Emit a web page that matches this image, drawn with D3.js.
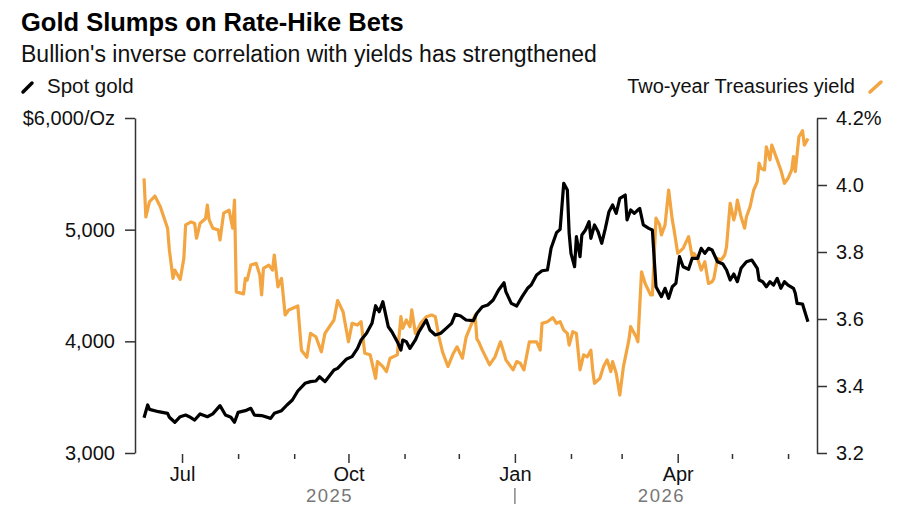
<!DOCTYPE html>
<html>
<head>
<meta charset="utf-8">
<script src="https://cdn.jsdelivr.net/npm/d3@7"></script>
<style>
  body { margin: 0; background: #fff; font-family: "Liberation Sans", Arial, sans-serif; }
  .axis text { fill: #111; font-size: 20px; font-family: "Liberation Sans", Arial, sans-serif; }
  .axis line, .axis path { stroke: #333; stroke-width: 1.5; }
</style>
</head>
<body>
<div id="chart"></div>
<script>
// Chart size
const width = 900,
    height = 510;

// Spot gold, $/oz
const goldDates = [
    "2025-06-10","2025-06-12","2025-06-13","2025-06-18","2025-06-23","2025-06-24","2025-06-27","2025-06-30",
    "2025-07-03","2025-07-05","2025-07-08","2025-07-11","2025-07-15","2025-07-18","2025-07-22","2025-07-25","2025-07-28","2025-07-30",
    "2025-08-01","2025-08-05","2025-08-08","2025-08-10","2025-08-14","2025-08-19","2025-08-21","2025-08-25","2025-08-28","2025-08-31",
    "2025-09-03","2025-09-07","2025-09-10","2025-09-13","2025-09-15","2025-09-18","2025-09-23","2025-09-25","2025-09-30",
    "2025-10-03","2025-10-06","2025-10-08","2025-10-11","2025-10-14","2025-10-16","2025-10-18","2025-10-20","2025-10-23","2025-10-25","2025-10-28","2025-10-30","2025-10-31",
    "2025-11-02","2025-11-04","2025-11-07","2025-11-09","2025-11-13","2025-11-15","2025-11-18","2025-11-21","2025-11-24","2025-11-27","2025-11-29",
    "2025-12-02","2025-12-05","2025-12-09","2025-12-11","2025-12-14","2025-12-17","2025-12-20","2025-12-23","2025-12-26","2025-12-27","2025-12-30",
    "2026-01-02","2026-01-05","2026-01-08","2026-01-10","2026-01-13","2026-01-16","2026-01-19","2026-01-21","2026-01-24","2026-01-26","2026-01-28","2026-01-30","2026-01-31",
    "2026-02-01","2026-02-03","2026-02-04","2026-02-06","2026-02-07","2026-02-09","2026-02-11","2026-02-12","2026-02-14","2026-02-16","2026-02-18","2026-02-20","2026-02-22","2026-02-24","2026-02-26","2026-02-28",
    "2026-03-03","2026-03-04","2026-03-06","2026-03-08","2026-03-10","2026-03-11","2026-03-13","2026-03-16","2026-03-18","2026-03-20","2026-03-23","2026-03-25","2026-03-27","2026-03-29","2026-03-31",
    "2026-04-02","2026-04-04","2026-04-07","2026-04-09","2026-04-12","2026-04-14","2026-04-16","2026-04-18","2026-04-20","2026-04-23","2026-04-26","2026-04-28","2026-04-30",
    "2026-05-02","2026-05-04","2026-05-06","2026-05-09","2026-05-12","2026-05-15","2026-05-16","2026-05-18","2026-05-20","2026-05-22","2026-05-24","2026-05-26","2026-05-28","2026-05-30",
    "2026-06-01","2026-06-04","2026-06-05","2026-06-06","2026-06-09","2026-06-10","2026-06-12"
];
const goldValues = [
    3316,3430,3391,3370,3355,3320,3275,3325,
    3340,3325,3295,3350,3325,3350,3424,3340,3320,3275,
    3364,3379,3400,3340,3335,3310,3355,3379,3430,3475,
    3555,3624,3639,3645,3683,3639,3743,3758,3842,
    3863,3937,4012,4072,4161,4319,4265,4355,4131,4086,3997,3922,4012,
    3997,3937,4012,4086,4191,4101,4057,4072,4116,4161,4242,
    4227,4191,4185,4251,4310,4325,4370,4460,4525,4445,4340,
    4316,4400,4475,4504,4594,4632,4639,4833,4973,5003,5415,5355,4967,
    4788,4668,4937,4758,4952,4997,5071,4922,5042,4982,4878,5012,5161,5221,5146,5281,
    5310,5087,5176,5146,5176,5191,5042,5012,4997,4489,4400,4475,4385,4489,4519,
    4758,4668,4645,4743,4743,4833,4788,4833,4818,4713,4692,4639,4549,
    4603,4534,4654,4713,4728,4654,4549,4534,4489,4534,4504,4564,4475,4534,
    4504,4475,4430,4340,4334,4281,4176
];

// Two-year Treasuries yield, %
const yieldDates = [
    "2025-06-10","2025-06-11","2025-06-13","2025-06-16","2025-06-19","2025-06-23","2025-06-24","2025-06-26","2025-06-27","2025-06-30",
    "2025-07-02","2025-07-03","2025-07-06","2025-07-08","2025-07-09","2025-07-11","2025-07-14","2025-07-15","2025-07-16","2025-07-18","2025-07-21","2025-07-22","2025-07-24","2025-07-27","2025-07-29","2025-07-30","2025-07-31",
    "2025-08-04","2025-08-05","2025-08-06","2025-08-08","2025-08-11","2025-08-13","2025-08-14","2025-08-15","2025-08-18","2025-08-20","2025-08-21","2025-08-23","2025-08-25","2025-08-27","2025-08-29",
    "2025-09-03","2025-09-05","2025-09-08","2025-09-10","2025-09-13","2025-09-16","2025-09-18","2025-09-23","2025-09-25","2025-09-28",
    "2025-10-01","2025-10-03","2025-10-06","2025-10-08","2025-10-10","2025-10-13","2025-10-16","2025-10-17","2025-10-20","2025-10-22","2025-10-24","2025-10-28","2025-10-30","2025-10-31",
    "2025-11-02","2025-11-04","2025-11-05","2025-11-07","2025-11-10","2025-11-13","2025-11-16","2025-11-18","2025-11-20","2025-11-22","2025-11-25","2025-11-28","2025-11-30",
    "2025-12-03","2025-12-05","2025-12-08","2025-12-10","2025-12-11","2025-12-12","2025-12-14","2025-12-18","2025-12-21","2025-12-24","2025-12-26","2025-12-27","2025-12-31",
    "2026-01-02","2026-01-04","2026-01-06","2026-01-09","2026-01-13","2026-01-15","2026-01-16","2026-01-19","2026-01-22","2026-01-24","2026-01-26","2026-01-28","2026-01-30","2026-01-31",
    "2026-02-02","2026-02-04","2026-02-06","2026-02-08","2026-02-10","2026-02-12","2026-02-13","2026-02-14","2026-02-17","2026-02-19","2026-02-21","2026-02-23","2026-02-24","2026-02-26","2026-02-28",
    "2026-03-02","2026-03-05","2026-03-06","2026-03-09","2026-03-10","2026-03-12","2026-03-14","2026-03-17","2026-03-18","2026-03-20","2026-03-22","2026-03-23","2026-03-25","2026-03-27","2026-03-29","2026-03-30",
    "2026-04-01","2026-04-04","2026-04-07","2026-04-09","2026-04-10","2026-04-12","2026-04-14","2026-04-16","2026-04-18","2026-04-20","2026-04-21","2026-04-23","2026-04-25","2026-04-27","2026-04-28","2026-04-30",
    "2026-05-02","2026-05-03","2026-05-04","2026-05-06","2026-05-08","2026-05-09","2026-05-11","2026-05-13","2026-05-15","2026-05-16","2026-05-17","2026-05-19","2026-05-20","2026-05-22","2026-05-23","2026-05-26","2026-05-28","2026-05-30",
    "2026-06-01","2026-06-03","2026-06-04","2026-06-05","2026-06-07","2026-06-09","2026-06-10","2026-06-12"
];
const yieldValues = [
    4.02,3.905,3.95,3.967,3.935,3.871,3.806,3.721,3.746,3.718,
    3.781,3.881,3.89,3.885,3.841,3.886,3.9,3.94,3.896,3.871,3.866,3.836,3.916,3.925,3.871,3.955,3.681,
    3.675,3.721,3.716,3.761,3.766,3.731,3.672,3.751,3.761,3.746,3.791,3.696,3.721,3.612,3.627,
    3.639,3.507,3.486,3.557,3.547,3.502,3.557,3.597,3.655,3.622,
    3.532,3.587,3.582,3.592,3.498,3.493,3.423,3.473,3.458,3.443,3.483,3.493,3.607,3.572,
    3.597,3.577,3.627,3.557,3.587,3.607,3.612,3.607,3.547,3.502,3.458,3.498,3.517,
    3.483,3.545,3.585,3.612,3.54,3.532,3.507,3.463,3.487,3.532,3.498,3.478,3.448,
    3.473,3.468,3.448,3.532,3.532,3.507,3.587,3.592,3.604,3.587,3.592,3.567,3.557,3.522,
    3.562,3.557,3.448,3.493,3.487,3.507,3.448,3.408,3.423,3.458,3.478,3.443,3.473,3.438,3.373,
    3.458,3.537,3.577,3.547,3.532,3.741,3.706,3.672,3.672,3.901,3.881,3.851,3.881,3.985,3.896,3.866,
    3.796,3.811,3.846,3.786,3.796,3.781,3.746,3.771,3.706,3.711,3.721,3.781,3.776,3.791,3.816,3.945,
    3.896,3.916,3.955,3.905,3.871,3.905,3.935,3.985,4.01,4.065,4.05,4.045,4.114,4.075,4.119,4.075,4.045,4.005,
    4.02,4.045,4.085,4.04,4.144,4.162,4.119,4.139
];

// Axis ticks
const goldTicks = [3000, 4000, 5000, 6000];
const yieldTicks = [3.2, 3.4, 3.6, 3.8, 4.0, 4.2];
const yearLabels = ["2025", "2026"];

const parseDate = d3.timeParse("%Y-%m-%d");
const gold = goldDates.map((d, i) => ({ date: parseDate(d), value: goldValues[i] }));
const yields = yieldDates.map((d, i) => ({ date: parseDate(d), value: yieldValues[i] }));

// Scales
const x = d3.scaleTime()
    .domain([new Date(2025, 5, 5), new Date(2026, 5, 17)])
    .range([135, 817]);

const yGold = d3.scaleLinear().domain([3000, 6000]).range([453, 118]);
const yYield = d3.scaleLinear().domain([3.2, 4.2]).range([453, 118]);

const svg = d3.select("#chart")
    .append("svg")
    .attr("width", width)
    .attr("height", height);

svg.append("rect").attr("width", width).attr("height", height).attr("fill", "#fff");

// Title and subtitle
svg.append("text")
    .attr("x", 21).attr("y", 31)
    .attr("font-size", 25.5).attr("font-weight", "bold").attr("fill", "#000")
    .text("Gold Slumps on Rate-Hike Bets");

svg.append("text")
    .attr("x", 21).attr("y", 62)
    .attr("font-size", 23).attr("fill", "#111")
    .text("Bullion's inverse correlation with yields has strengthened");

// Legend
svg.append("line")
    .attr("x1", 23).attr("y1", 92).attr("x2", 32).attr("y2", 83)
    .attr("stroke", "#000").attr("stroke-width", 3.5).attr("stroke-linecap", "round");
svg.append("text")
    .attr("x", 47).attr("y", 93)
    .attr("font-size", 20.5).attr("fill", "#111")
    .text("Spot gold");

svg.append("line")
    .attr("x1", 870).attr("y1", 92).attr("x2", 881).attr("y2", 82)
    .attr("stroke", "#f2a541").attr("stroke-width", 3.5).attr("stroke-linecap", "round");
svg.append("text")
    .attr("x", 855).attr("y", 93)
    .attr("text-anchor", "end")
    .attr("font-size", 20).attr("fill", "#111")
    .text("Two-year Treasuries yield");

// Left axis
svg.append("g")
    .attr("class", "axis")
    .attr("transform", "translate(135,0)")
    .call(d3.axisLeft(yGold)
        .tickValues(goldTicks)
        .tickSize(10)
        .tickSizeOuter(0)
        .tickPadding(10)
        .tickFormat(d => d === 6000 ? "$6,000/Oz" : d3.format(",")(d)));

// Right axis
svg.append("g")
    .attr("class", "axis")
    .attr("transform", "translate(817,0)")
    .call(d3.axisRight(yYield)
        .tickValues(yieldTicks)
        .tickSize(10)
        .tickSizeOuter(0)
        .tickPadding(9)
        .tickFormat(d => d === 4.2 ? "4.2%" : d.toFixed(1)));

// Bottom axis: quarter months labelled, other months short ticks
const months = d3.timeMonth.range(new Date(2025, 6, 1), new Date(2026, 5, 2));
const majorMonths = months.filter(d => d.getMonth() % 3 === 0);
const minorMonths = months.filter(d => d.getMonth() % 3 !== 0);

const xMajor = svg.append("g")
    .attr("class", "axis")
    .attr("transform", "translate(0,454)")
    .call(d3.axisBottom(x)
        .tickValues(majorMonths)
        .tickSize(9)
        .tickPadding(4)
        .tickFormat(d3.timeFormat("%b")));
xMajor.select(".domain").remove();

const xMinor = svg.append("g")
    .attr("class", "axis")
    .attr("transform", "translate(0,454)")
    .call(d3.axisBottom(x)
        .tickValues(minorMonths)
        .tickSize(5)
        .tickFormat(""));
xMinor.select(".domain").remove();

// Year labels and divider
const firstDate = gold[0].date, lastDate = gold[gold.length - 1].date;
const newYear = new Date(2026, 0, 1);
const yearCenters = [
    (x(firstDate) + x(newYear)) / 2,
    (x(newYear) + x(lastDate)) / 2
];
svg.selectAll(".year")
    .data(yearLabels)
    .enter().append("text")
    .attr("class", "year")
    .attr("x", (d, i) => yearCenters[i])
    .attr("y", 502)
    .attr("text-anchor", "middle")
    .attr("font-size", 18.5)
    .attr("letter-spacing", 1.5)
    .attr("fill", "#777")
    .text(d => d);

svg.append("line")
    .attr("x1", x(newYear)).attr("x2", x(newYear))
    .attr("y1", 488).attr("y2", 504)
    .attr("stroke", "#888").attr("stroke-width", 1.5);

// Lines
const yieldLine = d3.line()
    .x(d => x(d.date))
    .y(d => yYield(d.value));

const goldLine = d3.line()
    .x(d => x(d.date))
    .y(d => yGold(d.value));

svg.append("path")
    .datum(yields)
    .attr("d", yieldLine)
    .attr("fill", "none")
    .attr("stroke", "#f2a541")
    .attr("stroke-width", 3.2)
    .attr("stroke-linejoin", "round");

svg.append("path")
    .datum(gold)
    .attr("d", goldLine)
    .attr("fill", "none")
    .attr("stroke", "#000")
    .attr("stroke-width", 3.2)
    .attr("stroke-linejoin", "round");
</script>
</body>
</html>
